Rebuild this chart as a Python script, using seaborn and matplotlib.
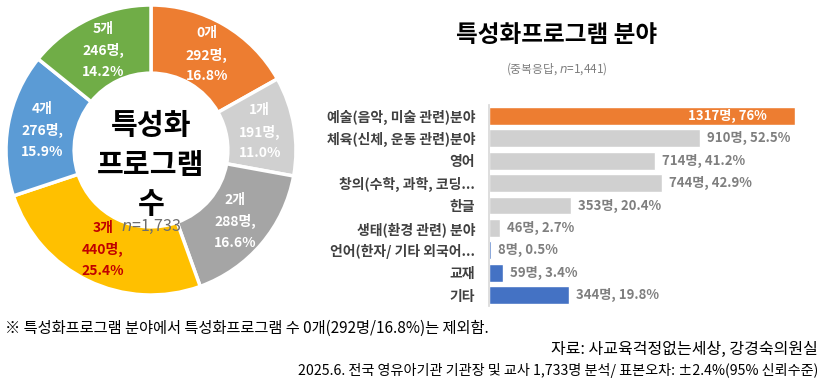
"""Donut of program counts + horizontal bar chart of program fields."""

import matplotlib
matplotlib.use("Agg")
import matplotlib.pyplot as plt
import pandas as pd
import seaborn as sns

# donut: number of specialised programmes
count_labels = ["0개", "1개", "2개", "3개", "4개", "5개"]
count_people = [292, 191, 288, 440, 276, 246]
count_pct = [16.8, 11.0, 16.6, 25.4, 15.9, 14.2]
count_colors = ["#ED7D31", "#D0D0D0", "#A5A5A5", "#FFC000", "#5B9BD5", "#70AD47"]
count_text_colors = ["white", "white", "white", "#C00000", "white", "white"]

# bars: programme fields (multiple answers)
fields = [
    "예술(음악, 미술 관련)분야",
    "체육(신체, 운동 관련)분야",
    "영어",
    "창의(수학, 과학, 코딩...",
    "한글",
    "생태(환경 관련) 분야",
    "언어(한자/ 기타 외국어...",
    "교재",
    "기타",
]
field_people = [1317, 910, 714, 744, 353, 46, 8, 59, 344]
field_pct = ["76", "52.5", "41.2", "42.9", "20.4", "2.7", "0.5", "3.4", "19.8"]
field_colors = ["#ED7D31"] + ["#D0D0D0"] * 5 + ["#4472C4"] * 3

sns.set_theme(style="white")
plt.rcParams["font.family"] = ["Noto Sans CJK KR", "DejaVu Sans"]
plt.rcParams["mathtext.fontset"] = "custom"
plt.rcParams["mathtext.rm"] = "Noto Sans CJK KR"
plt.rcParams["mathtext.it"] = "DejaVu Sans:italic"

W, H = 826, 383
fig = plt.figure(figsize=(W / 100, H / 100), dpi=100)

# ---- donut ----
cx, cy, r = 151, 150, 145
ax1 = fig.add_axes([(cx - r) / W, 1 - (cy + r) / H, 2 * r / W, 2 * r / H])
pie_labels = [f"{l}\n{n}명,\n{p:.1f}%" for l, n, p in zip(count_labels, count_people, count_pct)]
wedges, texts = ax1.pie(
    count_people,
    colors=count_colors,
    startangle=90,
    counterclock=False,
    radius=1,
    labels=pie_labels,
    labeldistance=0.76,
    wedgeprops=dict(width=0.47, edgecolor="white", linewidth=2.5),
    textprops=dict(fontsize=10, fontweight="bold", linespacing=1.6),
)
for t, c in zip(texts, count_text_colors):
    t.set_ha("center")
    t.set_va("center")
    t.set_color(c)
ax1.set_xlim(-1, 1)
ax1.set_ylim(-1, 1)
ax1.set_aspect("equal")
ax1.axis("off")
ax1.text(0, -0.1, "특성화\n프로그램\n수", ha="center", va="center",
         fontsize=21, fontweight="bold", color="black", linespacing=1.38)
ax1.text(0, -0.53, "$n$=1,733", ha="center", va="center", fontsize=11.5, color="#6E6E6E")

# ---- bars ----
ax2 = fig.add_axes([489 / W, 1 - 306.2 / H, 306 / W, 201.4 / H])
df = pd.DataFrame({"field": fields, "people": field_people, "pct": field_pct})
sns.barplot(data=df, y="field", x="people", hue="field", palette=field_colors,
            legend=False, saturation=1, width=0.8, ax=ax2)
ax2.set_xlim(0, max(field_people))
ax2.set_xlabel("")
ax2.set_ylabel("")
ax2.set_xticks([])
for s in ["top", "right", "bottom"]:
    ax2.spines[s].set_visible(False)
ax2.spines["left"].set_color("#D9D9D9")
ax2.tick_params(axis="y", length=0, pad=10)
for lab in ax2.get_yticklabels():
    lab.set_fontsize(10)
    lab.set_fontweight("bold")
    lab.set_color("#404040")

for i, (n, p) in enumerate(zip(field_people, field_pct)):
    txt = f"{n}명, {p}%"
    if i == 0:
        ax2.annotate(txt, (n, i), xytext=(-20, 0), textcoords="offset points",
                     ha="right", va="center", fontsize=9.5, fontweight="bold", color="white")
    else:
        ax2.annotate(txt, (n, i), xytext=(5, 0), textcoords="offset points",
                     ha="left", va="center", fontsize=9.5, fontweight="bold", color="#7F7F7F")

# ---- titles and notes ----
fig.text(557 / W, 1 - 35 / H, "특성화프로그램 분야", ha="center", va="center",
         fontsize=17, fontweight="bold", color="black")
fig.text(557 / W, 1 - 69 / H, "(중복응답, $n$=1,441)", ha="center", va="center",
         fontsize=8.5, color="#7F7F7F")

fig.text(5 / W, 1 - 328 / H, "※ 특성화프로그램 분야에서 특성화프로그램 수 0개(292명/16.8%)는 제외함.",
         ha="left", va="center", fontsize=11, color="black")
fig.text(818 / W, 1 - 349 / H, "자료: 사교육걱정없는세상, 강경숙의원실",
         ha="right", va="center", fontsize=11.5, color="black")
fig.text(818 / W, 1 - 371 / H,
         "2025.6. 전국 영유아기관 기관장 및 교사 1,733명 분석/ 표본오차: ±2.4%(95% 신뢰수준)",
         ha="right", va="center", fontsize=10.2, color="black")

fig.savefig("out.png", dpi=100, facecolor="white")
